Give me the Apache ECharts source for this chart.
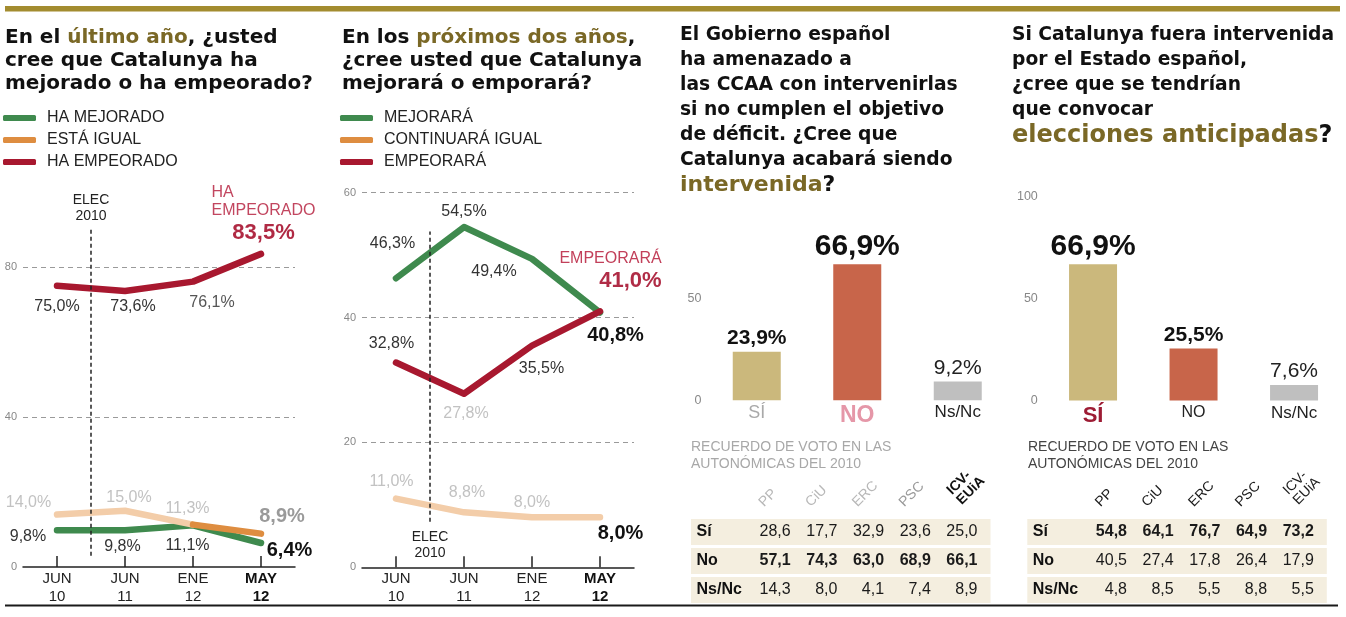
<!DOCTYPE html>
<html><head><meta charset="utf-8">
<script src="https://cdn.jsdelivr.net/npm/echarts@6/dist/echarts.min.js"></script>
<style>html,body{margin:0;padding:0;background:#fff}#c{width:1346px;height:617px}</style>
</head><body><div id="c"></div>
<script>
// ---------------- DATA ----------------
const periods = ['JUN 10', 'JUN 11', 'ENE 12', 'MAY 12'];
const pastBetter = [9.8, 9.8, 11.1, 6.4];      // HA MEJORADO
const pastSame   = [14.0, 15.0, 11.3, 8.9];    // ESTÁ IGUAL
const pastWorse  = [75.0, 73.6, 76.1, 83.5];   // HA EMPEORADO
const nextBetter = [46.3, 54.5, 49.4, 40.8];   // MEJORARÁ
const nextSame   = [11.0, 8.8, 8.0, 8.0];      // CONTINUARÁ IGUAL
const nextWorse  = [32.8, 27.8, 35.5, 41.0];   // EMPEORARÁ
const ELEC_POS = 0.5;                          // elections, between JUN 10 and JUN 11
const ELEC_LABEL = 'ELEC\n2010';
const answers = ['SÍ', 'NO', 'Ns/Nc'];
const intervened = [23.9, 66.9, 9.2];
const earlyElections = [66.9, 25.5, 7.6];
const parties = ['PP', 'CiU', 'ERC', 'PSC', 'ICV-EUiA'];
const tableRows = ['Sí', 'No', 'Ns/Nc'];
const intervSi   = [28.6, 17.7, 32.9, 23.6, 25.0];
const intervNo   = [57.1, 74.3, 63.0, 68.9, 66.1];
const intervNsNc = [14.3, 8.0, 4.1, 7.4, 8.9];
const electSi    = [54.8, 64.1, 76.7, 64.9, 73.2];
const electNo    = [40.5, 27.4, 17.8, 26.4, 17.9];
const electNsNc  = [4.8, 8.5, 5.5, 8.8, 5.5];

// ---------------- STYLE ----------------
const GREEN = '#3f8a4e', ORANGE = '#de8d40', PEACH = '#f3cda9', RED = '#a8182f';
const HIGHLIGHT = '#7a6826';
const DARK = '#333', LIGHT = '#c2c2c2';
const SANS = 'Liberation Sans', HEAD = 'DejaVu Sans';
const BAR_COLORS = ['#cbb87c', '#c8654a', '#bfbfbf'];
const fmt = v => v.toFixed(1).replace('.', ',') + '%';
const num = v => v.toFixed(1).replace('.', ',');

function L(dx, dy, extra) {
  return Object.assign({ show: true, position: 'inside', offset: [dx, dy], fontSize: 16,
    color: DARK, fontFamily: SANS, formatter: p => fmt(p.value) }, extra || {});
}
const BOLD = (c) => ({ fontSize: 20, fontWeight: 'bold', color: c });

function lineSeries(name, values, color, xi, yi, labels, from, to) {
  return {
    type: 'line', name, xAxisIndex: xi, yAxisIndex: yi, z: 2,
    symbol: 'circle', symbolSize: 0, showSymbol: true, silent: true,
    lineStyle: { color, width: 6.5, cap: 'round', join: 'round' },
    itemStyle: { color },
    emphasis: { disabled: true },
    data: values.map((v, i) => (i >= from && i <= to)
      ? { value: v, label: labels[i] || { show: false } } : '-')
  };
}
function elecSeries(xi, yi, span, labelAtTop) {
  const lab = { show: true, position: labelAtTop ? 'top' : 'bottom', distance: labelAtTop ? 4 : 7,
    formatter: ELEC_LABEL, fontSize: 14, lineHeight: 16, color: '#222', fontFamily: SANS };
  return {
    type: 'line', xAxisIndex: xi, yAxisIndex: yi, symbol: 'circle', symbolSize: 0, silent: true,
    lineStyle: { color: '#222', width: 1.5, type: [4, 3] }, itemStyle: { color: '#222' },
    data: [
      { value: [ELEC_POS, span[0]], label: labelAtTop ? { show: false } : lab },
      { value: [ELEC_POS, span[1]], label: labelAtTop ? lab : { show: false } }
    ]
  };
}

// label placements
const p1Better = [L(-29, 6), L(-2.5, 16), L(-5.5, 20.5), L(28.5, 7, BOLD('#111'))];
const p1Same = [L(-28.5, -12, { color: LIGHT }), L(4, -13, { color: LIGHT }), L(-5.5, -16.5, { color: LIGHT }),
  L(21, -17, BOLD('#9a9a9a'))];
const p1Worse = [L(0, 21), L(8, 16), L(19, 21, { color: '#555' }),
  L(2.5, -39, {
    formatter: p => '{a|HA}\n{a|EMPEORADO}\n{c|' + fmt(p.value) + '}',
    rich: { a: { fontSize: 16, color: '#c2465f', lineHeight: 18, align: 'left', fontFamily: SANS },
            c: { fontSize: 22, fontWeight: 'bold', color: '#b02a44', lineHeight: 26, align: 'center', fontFamily: SANS } }
  })];
const p2Better = [L(-3.5, -35), L(0, -15.5), L(-38, 13), L(15.5, 23, BOLD('#111'))];
const p2Same = [L(-4.5, -17, { color: LIGHT }), L(3, -19.5, { color: LIGHT }), L(0, -15, { color: LIGHT }),
  L(20.5, 16.5, BOLD('#111'))];
const p2Worse = [L(-4.5, -18.5), L(2, 19.5, { color: LIGHT }), L(9.5, 23.3),
  L(10.5, -40, {
    formatter: p => '{a|EMPEORARÁ}\n{c|' + fmt(p.value) + '}',
    rich: { a: { fontSize: 16, color: '#c2405a', lineHeight: 20, align: 'right', fontFamily: SANS },
            c: { fontSize: 22, fontWeight: 'bold', color: '#b02c46', lineHeight: 26, align: 'right', fontFamily: SANS } }
  })];

// ---------------- AXES ----------------
const periodLabel = {
  margin: 3, interval: 0, fontFamily: SANS,
  formatter: (v, i) => {
    const [m, y] = v.split(' ');
    const k = i === periods.length - 1 ? 'b' : 'n';
    return '{' + k + '|' + m + '}\n{' + k + '|' + y + '}';
  },
  rich: { n: { fontSize: 15, lineHeight: 18, color: '#222', fontFamily: SANS },
          b: { fontSize: 15, lineHeight: 18, color: '#111', fontWeight: 'bold', fontFamily: SANS } }
};
function periodAxis(g) {
  return { type: 'category', gridIndex: g, data: periods, boundaryGap: true,
    axisLine: { show: true, lineStyle: { color: '#222', width: 1.5 } },
    axisTick: { show: true, inside: true, length: 11, alignWithLabel: true, lineStyle: { color: '#222', width: 1.5 } },
    axisLabel: periodLabel, splitLine: { show: false } };
}
function hiddenValueX(g) { return { type: 'value', gridIndex: g, min: -0.5, max: 3.5, show: false }; }
function pctAxis(g, max, interval, showTop) {
  return { type: 'value', gridIndex: g, min: 0, max, interval,
    axisLine: { show: false }, axisTick: { show: false },
    axisLabel: { color: '#888', fontSize: 11, margin: 6, fontFamily: SANS, showMaxLabel: showTop },
    splitLine: { show: true, showMinLine: false, showMaxLine: showTop,
      lineStyle: { color: '#9a9a9a', width: 1, type: [5, 4] } } };
}
function answerAxis(g, rich) {
  return { type: 'category', gridIndex: g, data: answers,
    axisLine: { show: false }, axisTick: { show: false },
    axisLabel: { interval: 0, margin: 4, formatter: (v, i) => '{c' + i + '|' + v + '}', rich } };
}
function barValueAxis(g, hideTop) {
  return { type: 'value', gridIndex: g, min: 0, max: 100, interval: 50,
    axisLine: { show: false }, axisTick: { show: false }, splitLine: { show: false },
    axisLabel: { color: '#888', fontSize: 12.5, margin: 5, fontFamily: SANS,
      formatter: v => (hideTop && v === 100) ? '' : String(v) } };
}

// ---------------- BARS ----------------
function barSeries(xi, yi, values, rich) {
  return { type: 'bar', xAxisIndex: xi, yAxisIndex: yi, barWidth: 48, silent: true,
    data: values.map((v, i) => ({ value: v, itemStyle: { color: BAR_COLORS[i] } })),
    label: { show: true, position: 'top', distance: 3,
      formatter: p => '{s' + p.dataIndex + '|' + fmt(p.value) + '}', rich } };
}
const r = (size, weight, color) => ({ fontSize: size, fontWeight: weight, color, fontFamily: SANS });

// ---------------- TABLES ----------------
function tableSeries(xi, yi, rows, boldRow, headerColors, headerWeights) {
  const bg = {
    type: 'custom', xAxisIndex: xi, yAxisIndex: yi, silent: true, clip: false, z: 1,
    data: tableRows.map((t, i) => [0, i]),
    renderItem: (params, api) => {
      const cs = params.coordSys;
      const idx = api.value(1);
      const y = api.coord([0, idx])[1];
      return { type: 'group', children: [
        { type: 'rect', shape: { x: cs.x - 54, y: y - 13, width: cs.width + 66, height: 26 }, style: { fill: '#f4eedf' } },
        { type: 'text', style: { text: tableRows[idx], x: cs.x - 48.5, y: y, align: 'left', verticalAlign: 'middle',
          fontSize: 16, fontWeight: 'bold', fontFamily: SANS, fill: '#111' } }
      ] };
    }
  };
  const vals = {
    type: 'custom', xAxisIndex: xi, yAxisIndex: yi, silent: true, clip: false, z: 3,
    data: rows.flatMap((arr, ri) => arr.map((v, ci) => [ci, ri, v])),
    renderItem: (params, api) => {
      const c = api.value(0), ri = api.value(1), v = api.value(2);
      const p = api.coord([c, ri]);
      const w = api.size([1, 1])[0];
      return { type: 'text', style: { text: num(v), x: p[0] + w / 2 - 1, y: p[1], align: 'right', verticalAlign: 'middle',
        fontSize: 16, fontWeight: ri === boldRow ? 'bold' : 'normal', fontFamily: SANS, fill: '#1a1a1a' } };
    }
  };
  const heads = {
    type: 'custom', xAxisIndex: xi, yAxisIndex: yi, silent: true, clip: false, z: 3,
    data: parties.map((p, i) => [i, 0]),
    renderItem: (params, api) => {
      const cs = params.coordSys;
      const i = api.value(0);
      const p = api.coord([i, 0]);
      const name = parties[i];
      const multi = name.indexOf('-') >= 0;
      return { type: 'text', x: p[0] + (multi ? -1 : -7), y: cs.y + (multi ? -20 : -13), rotation: Math.PI / 4,
        style: { text: multi ? name.replace('-', '-\n') : name, x: 0, y: 0, align: 'left', verticalAlign: 'middle',
          fontSize: 14, lineHeight: 14, fontFamily: SANS, fontWeight: headerWeights[i], fill: headerColors[i] } };
    }
  };
  return [bg, vals, heads];
}
function tableXAxis(g) { return { type: 'category', gridIndex: g, data: parties, show: false }; }
function tableYAxis(g) { return { type: 'category', gridIndex: g, data: tableRows, inverse: true, show: false }; }

// ---------------- TITLES ----------------
const T12 = { fontFamily: HEAD, fontWeight: 'bold', fontSize: 20, lineHeight: 23, color: '#111',
  rich: { h: { fontFamily: HEAD, fontWeight: 'bold', fontSize: 20, lineHeight: 23, color: HIGHLIGHT } } };
const T34 = (big) => ({ fontFamily: HEAD, fontWeight: 'bold', fontSize: 18.7, lineHeight: 25, color: '#111',
  rich: { h: { fontFamily: HEAD, fontWeight: 'bold', fontSize: big, lineHeight: 25, color: HIGHLIGHT },
          q: { fontFamily: HEAD, fontWeight: 'bold', fontSize: big, lineHeight: 25, color: '#111' } } });
const SUB = (c) => ({ fontFamily: SANS, fontWeight: 'normal', fontSize: 14, lineHeight: 17, color: c });

function legend(left, items) {
  return { left, top: 108, orient: 'vertical', icon: 'roundRect', itemWidth: 33, itemHeight: 6, itemGap: 2,
    selectedMode: false, padding: 0,
    textStyle: { fontSize: 16, lineHeight: 20, color: '#222', fontFamily: SANS, padding: [0, 0, 0, 6] },
    data: items.map(([name, color]) => ({ name, itemStyle: { color, borderWidth: 0 } })) };
}

const option = {
  animation: false,
  backgroundColor: '#fff',
  textStyle: { fontFamily: SANS },
  title: [
    { left: 5, top: 26, padding: 0, text: 'En el {h|último año}, ¿usted\ncree que Catalunya ha\nmejorado o ha empeorado?', textStyle: T12 },
    { left: 342, top: 26, padding: 0, text: 'En los {h|próximos dos años},\n¿cree usted que Catalunya\nmejorará o emporará?', textStyle: T12 },
    { left: 680, top: 23, padding: 0, text: 'El Gobierno español\nha amenazado a\nlas CCAA con intervenirlas\nsi no cumplen el objetivo\nde déficit. ¿Cree que\nCatalunya acabará siendo\n{h|intervenida}{q|?}', textStyle: T34(22) },
    { left: 1012, top: 23, padding: 0, text: 'Si Catalunya fuera intervenida\npor el Estado español,\n¿cree que se tendrían\nque convocar\n{h|elecciones anticipadas}{q|?}', textStyle: T34(24) },
    { left: 691, top: 438.5, padding: 0, text: 'RECUERDO DE VOTO EN LAS\nAUTONÓMICAS DEL 2010', textStyle: SUB('#a8a8a8') },
    { left: 1028, top: 438.5, padding: 0, text: 'RECUERDO DE VOTO EN LAS\nAUTONÓMICAS DEL 2010', textStyle: SUB('#444') }
  ],
  legend: [
    legend(3, [['HA MEJORADO', GREEN], ['ESTÁ IGUAL', ORANGE], ['HA EMPEORADO', RED]]),
    legend(340, [['MEJORARÁ', GREEN], ['CONTINUARÁ IGUAL', ORANGE], ['EMPEORARÁ', RED]])
  ],
  grid: [
    { left: 23, top: 117, width: 272, height: 450, outerBoundsMode: 'none' },
    { left: 362, top: 192.7, width: 272, height: 374.6, outerBoundsMode: 'none' },
    { left: 706.5, top: 197, width: 301.5, height: 203.3, outerBoundsMode: 'none' },
    { left: 1042.8, top: 197, width: 301.5, height: 203.5, outerBoundsMode: 'none' },
    { left: 745, top: 517.5, width: 233.5, height: 87, outerBoundsMode: 'none' },
    { left: 1081.3, top: 517.5, width: 233.5, height: 87, outerBoundsMode: 'none' }
  ],
  xAxis: [
    periodAxis(0), hiddenValueX(0), periodAxis(1), hiddenValueX(1),
    answerAxis(2, { c0: r(18, 'normal', '#a9a9a9'), c1: r(23, 'bold', '#e597a8'), c2: r(17, 'normal', '#222') }),
    answerAxis(3, { c0: r(22, 'bold', '#9d1c34'), c1: r(16, 'normal', '#222'), c2: r(17, 'normal', '#222') }),
    tableXAxis(4), tableXAxis(5)
  ],
  yAxis: [
    pctAxis(0, 120, 40, false), pctAxis(1, 60, 20, true), barValueAxis(2, true), barValueAxis(3, false),
    tableYAxis(4), tableYAxis(5)
  ],
  graphic: [
    { type: 'rect', silent: true, shape: { x: 5, y: 6, width: 1335, height: 5.5 }, style: { fill: '#a38c2f' } },
    { type: 'line', silent: true, shape: { x1: 5, y1: 605.5, x2: 1338, y2: 605.5 }, style: { stroke: '#1a1a1a', lineWidth: 2 } }
  ],
  series: [
    // panel 1
    lineSeries('HA MEJORADO', pastBetter, GREEN, 0, 0, p1Better, 0, 3),
    lineSeries('ESTÁ IGUAL', pastSame, PEACH, 0, 0, p1Same, 0, 2),
    lineSeries('ESTÁ IGUAL', pastSame, ORANGE, 0, 0, [null, null, { show: false }, p1Same[3]], 2, 3),
    lineSeries('HA EMPEORADO', pastWorse, RED, 0, 0, p1Worse, 0, 3),
    elecSeries(1, 0, [3, 90.4], true),
    // panel 2
    lineSeries('CONTINUARÁ IGUAL', nextSame, PEACH, 2, 1, p2Same, 0, 3),
    lineSeries('MEJORARÁ', nextBetter, GREEN, 2, 1, p2Better, 0, 3),
    lineSeries('EMPEORARÁ', nextWorse, RED, 2, 1, p2Worse, 0, 3),
    elecSeries(3, 1, [7.3, 53.8], false),
    // panel 3 & 4 bars
    barSeries(4, 2, intervened, { s0: r(21, 'bold', '#111'), s1: r(30, 'bold', '#111'), s2: r(21, 'normal', '#222') }),
    barSeries(5, 3, earlyElections, { s0: r(30, 'bold', '#111'), s1: r(21, 'bold', '#111'), s2: r(21, 'normal', '#222') }),
    // tables
    ...tableSeries(6, 4, [intervSi, intervNo, intervNsNc], 1,
      ['#b8b8b8', '#b8b8b8', '#b8b8b8', '#9a9a9a', '#111'], ['normal', 'normal', 'normal', 'normal', 'bold']),
    ...tableSeries(7, 5, [electSi, electNo, electNsNc], 0,
      ['#1a1a1a', '#1a1a1a', '#1a1a1a', '#1a1a1a', '#1a1a1a'], ['normal', 'normal', 'normal', 'normal', 'normal'])
  ]
};
const chart = echarts.init(document.getElementById('c'), null, { renderer: 'canvas' });
chart.setOption(option);
</script></body></html>
